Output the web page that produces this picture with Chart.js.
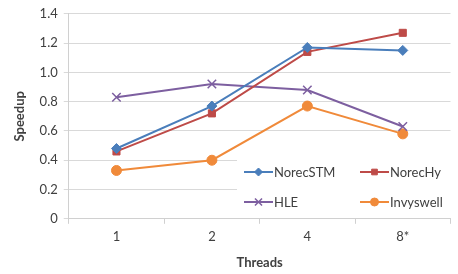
<!DOCTYPE html>
<html>
<head>
<meta charset="utf-8">
<script src="https://cdn.jsdelivr.net/npm/chart.js@4.4.1/dist/chart.umd.min.js"></script>
<style>
  html, body { margin: 0; padding: 0; background: #fff; }
  #wrap { width: 458px; height: 274px; position: relative; }
</style>
</head>
<body>
<div id="wrap"><canvas id="speedupChart"></canvas></div>
<script>
// Data
const threadLabels = ['1', '2', '4', '8*'];
const norecStm = [0.48, 0.77, 1.17, 1.15];
const norecHy = [0.46, 0.72, 1.14, 1.27];
const hle = [0.83, 0.92, 0.88, 0.63];
const invyswell = [0.33, 0.40, 0.77, 0.58];

const FONT = 'Lato, "Open Sans", sans-serif';

function makeSeries(label, data, color, style, radius) {
    return {
        label: label,
        data: data,
        borderColor: color,
        backgroundColor: color,
        borderWidth: 2,
        pointStyle: style,
        pointRadius: radius,
        pointHoverRadius: radius,
        pointBorderColor: color,
        pointBackgroundColor: color,
        pointBorderWidth: style === 'crossRot' ? 1.5 : 1,
        tension: 0
    };
}

const datasets = [
    makeSeries('NorecSTM', norecStm, '#4a7ebb', 'rectRot', 5),
    makeSeries('NorecHy', norecHy, '#be4b48', 'rect', 5),
    makeSeries('HLE', hle, '#7d5fa0', 'crossRot', 6),
    makeSeries('Invyswell', invyswell, '#f08a3a', 'circle', 5)
];

// legend drawn inside the plot, bottom right, like the original
const insideLegend = {
    id: 'insideLegend',
    afterDatasetsDraw(chart) {
        const ctx = chart.ctx;
        const area = chart.chartArea;
        ctx.save();
        ctx.fillStyle = '#ffffff';
        ctx.fillRect(237, 152, area.right - 237 + 1, area.bottom - 152 - 1);
        const cols = [244, 360];
        const rows = [172, 202];
        chart.data.datasets.forEach((ds, i) => {
            const x = cols[i % 2];
            const y = rows[Math.floor(i / 2)];
            ctx.strokeStyle = ds.borderColor;
            ctx.fillStyle = ds.borderColor;
            ctx.lineWidth = 2;
            ctx.beginPath();
            ctx.moveTo(x, y);
            ctx.lineTo(x + 29, y);
            ctx.stroke();
            ctx.lineWidth = ds.pointBorderWidth;
            Chart.helpers.drawPoint(ctx, {
                pointStyle: ds.pointStyle,
                radius: ds.pointStyle === 'crossRot' ? 5 : 4,
                rotation: 0,
                borderWidth: ds.pointBorderWidth
            }, x + 14.5, y);
            ctx.fillStyle = '#404040';
            ctx.font = '13px ' + FONT;
            ctx.textBaseline = 'middle';
            ctx.textAlign = 'left';
            ctx.fillText(ds.label, x + 30, y + 1);
        });
        ctx.restore();
    }
};

new Chart(document.getElementById('speedupChart'), {
    type: 'line',
    data: { labels: threadLabels, datasets: datasets },
    options: {
        responsive: true,
        maintainAspectRatio: false,
        animation: false,
        layout: { padding: { left: 12, right: 4, top: 10, bottom: 3 } },
        plugins: {
            legend: { display: false },
            tooltip: { enabled: false }
        },
        scales: {
            x: {
                offset: true,
                grid: {
                    offset: true,
                    drawOnChartArea: false,
                    tickLength: 5,
                    color: '#d0d0d0'
                },
                border: { color: '#d0d0d0' },
                ticks: { color: '#404040', font: { family: FONT, size: 13 }, padding: 5 },
                title: {
                    display: true,
                    text: 'Threads',
                    color: '#404040',
                    font: { family: FONT, size: 13, weight: 'bold' },
                    padding: { top: 6, bottom: 0 }
                }
            },
            y: {
                min: 0,
                max: 1.4,
                ticks: {
                    stepSize: 0.2,
                    color: '#404040',
                    font: { family: FONT, size: 13 },
                    padding: 6
                },
                grid: { color: '#d9d9d9', tickLength: 5 },
                border: { color: '#d0d0d0' },
                title: {
                    display: true,
                    text: 'Speedup',
                    color: '#404040',
                    font: { family: FONT, size: 13, weight: 'bold' },
                    padding: { top: 0, bottom: 6 }
                }
            }
        }
    },
    plugins: [insideLegend]
});
</script>
</body>
</html>
